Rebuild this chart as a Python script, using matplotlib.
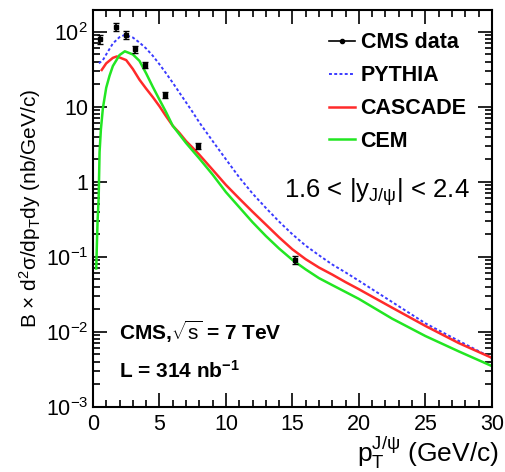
import numpy as np
import matplotlib.pyplot as plt
from matplotlib.lines import Line2D
from matplotlib.ticker import LogLocator, NullFormatter, MultipleLocator

plt.rcParams['font.family'] = ['Liberation Sans', 'DejaVu Sans']
plt.rcParams['mathtext.fontset'] = 'custom'
plt.rcParams['mathtext.rm'] = 'Liberation Sans'
plt.rcParams['mathtext.it'] = 'Liberation Sans'
plt.rcParams['mathtext.bf'] = 'Liberation Sans:bold'

# CMS data
data_pt = [0.5, 1.75, 2.5, 3.2, 3.9, 5.4, 7.9, 15.2]
data_val = [80, 117, 91, 59, 36, 14.5, 3.0, 0.091]
data_err = [12, 15, 11, 6, 3.5, 1.4, 0.3, 0.011]

# PYTHIA
py_pt = [0.45, 0.75, 1.0, 1.5, 2.0, 2.4, 3.0, 3.5, 4.0, 4.5, 5.0, 5.5, 6.0, 6.5, 7.0, 7.5,
         8.0, 9.0, 10.0, 11.0, 12.0, 13.0, 14.0, 15.0, 16.0, 17.0, 18.0, 19.0, 20.0,
         22.5, 25.0, 27.5, 30.0]
py_val = [38, 42, 50, 70, 85, 91, 84, 72, 60, 48, 37, 28, 21, 15.5, 11.5, 8.5,
          6.2, 3.5, 2.0, 1.15, 0.7, 0.45, 0.295, 0.2, 0.141, 0.105, 0.079, 0.062, 0.048,
          0.025, 0.013, 0.0076, 0.0045]

# CASCADE
ca_pt = [0.66, 1.0, 1.5, 1.8, 2.5, 3.0, 3.5, 4.0, 4.5, 5.0, 5.5, 6.0, 6.5, 7.0, 7.5, 8.0, 9.0,
         10.0, 11.0, 12.0, 13.0, 14.0, 15.0, 16.0, 17.0, 18.0, 19.0, 20.0,
         22.5, 25.0, 27.5, 30.0]
ca_val = [31, 38, 45, 47, 42, 32, 23, 17.5, 13.5, 10.2, 7.5, 5.6, 4.5, 3.5, 2.85, 2.3, 1.45,
          0.91, 0.6, 0.40, 0.27, 0.182, 0.126, 0.093, 0.072, 0.058, 0.046, 0.037,
          0.021, 0.012, 0.0071, 0.0045]

# CEM
ce_pt = [0.25, 0.3, 0.35, 0.43, 0.5, 0.6, 0.75, 1.0, 1.25, 1.5, 2.0, 2.4, 3.0, 3.5, 4.0, 4.5,
         5.0, 5.5, 6.0, 6.5, 7.0, 7.5, 8.0, 9.0, 10.0, 11.0, 12.0, 13.0, 14.0, 15.0, 16.0,
         17.0, 18.0, 19.0, 20.0, 22.5, 25.0, 27.5, 30.0]
ce_val = [0.07, 0.15, 0.3, 0.6, 2.5, 5.0, 9.6, 18, 26, 35, 49, 55, 50, 41, 28, 18.5,
          12.5, 8.5, 5.6, 4.3, 3.3, 2.6, 2.05, 1.25, 0.73, 0.46, 0.29, 0.19, 0.129, 0.091, 0.068,
          0.052, 0.042, 0.034, 0.0275, 0.015, 0.0088, 0.0055, 0.0035]

yticks = [1e-3, 1e-2, 1e-1, 1, 10, 100]
yticklabels = [r'$10^{-3}$', r'$10^{-2}$', r'$10^{-1}$', '1', '10', r'$10^{2}$']
xticks = [0, 5, 10, 15, 20, 25, 30]

fig = plt.figure(figsize=(5.05, 4.72), dpi=100)
ax = fig.add_axes([0.184, 0.138, 0.79, 0.841])

ax.plot(py_pt, py_val, color='#3a3aff', lw=1.4, ls=(0, (1.5, 1.2)))
ax.plot(ca_pt, ca_val, color='#ff2a2a', lw=1.8)
ax.plot(ce_pt, ce_val, color='#22e622', lw=1.8)
ax.errorbar(data_pt, data_val, yerr=data_err, fmt='s', color='black', ms=3,
            elinewidth=1.2, capsize=2, zorder=5)

ax.set_yscale('log')
ax.set_xlim(0, 30)
ax.set_ylim(1e-3, 196)
ax.set_yticks(yticks)
ax.set_yticklabels(yticklabels)
ax.yaxis.set_minor_locator(LogLocator(base=10, subs=np.arange(2, 10)))
ax.yaxis.set_minor_formatter(NullFormatter())
ax.set_xticks(xticks)
ax.xaxis.set_minor_locator(MultipleLocator(1))
ax.tick_params(which='both', direction='in', top=True, right=True, width=1.2, labelsize=15.5)
ax.tick_params(which='major', length=10)
ax.tick_params(which='minor', length=5)
ax.tick_params(axis='x', pad=5)
for s in ax.spines.values():
    s.set_linewidth(1.5)

ax.set_ylabel(r'B $\times$ d$^2\sigma$/dp$_{\rm T}$dy (nb/GeV/c)', fontsize=15, labelpad=2)
ax.set_xlabel(r'p$_{\rm T}^{\rm J/\psi}$ (GeV/c)', fontsize=19)
ax.xaxis.set_label_coords(1.018, -0.068, transform=ax.transAxes)
ax.xaxis.label.set_horizontalalignment('right')

handles = [
    Line2D([], [], color='black', marker='o', ms=3, lw=1.2),
    Line2D([], [], color='#3a3aff', lw=1.4, ls=(0, (1.5, 1.2))),
    Line2D([], [], color='#ff2a2a', lw=1.8),
    Line2D([], [], color='#22e622', lw=1.8),
]
labels = ['CMS data', 'PYTHIA', 'CASCADE', 'CEM']
ax.legend(handles, labels, loc='upper right', frameon=False,
          prop={'weight': 'bold', 'size': 15.5}, handlelength=1.2,
          handletextpad=0.25, labelspacing=0.55, bbox_to_anchor=(0.985, 0.992))

ax.text(0.945, 0.542, r'1.6 < |y$_{\rm J/\psi}$| < 2.4', transform=ax.transAxes,
        ha='right', va='center', fontsize=18.5)
ax.text(0.065, 0.19, r'CMS,$\sqrt{\rm s}$ = 7 TeV', transform=ax.transAxes,
        ha='left', va='center', fontsize=15, fontweight='bold')
ax.text(0.065, 0.09, r'L = 314 nb$^{\mathbf{-1}}$', transform=ax.transAxes,
        ha='left', va='center', fontsize=15, fontweight='bold')

fig.savefig('out.png', dpi=100)
